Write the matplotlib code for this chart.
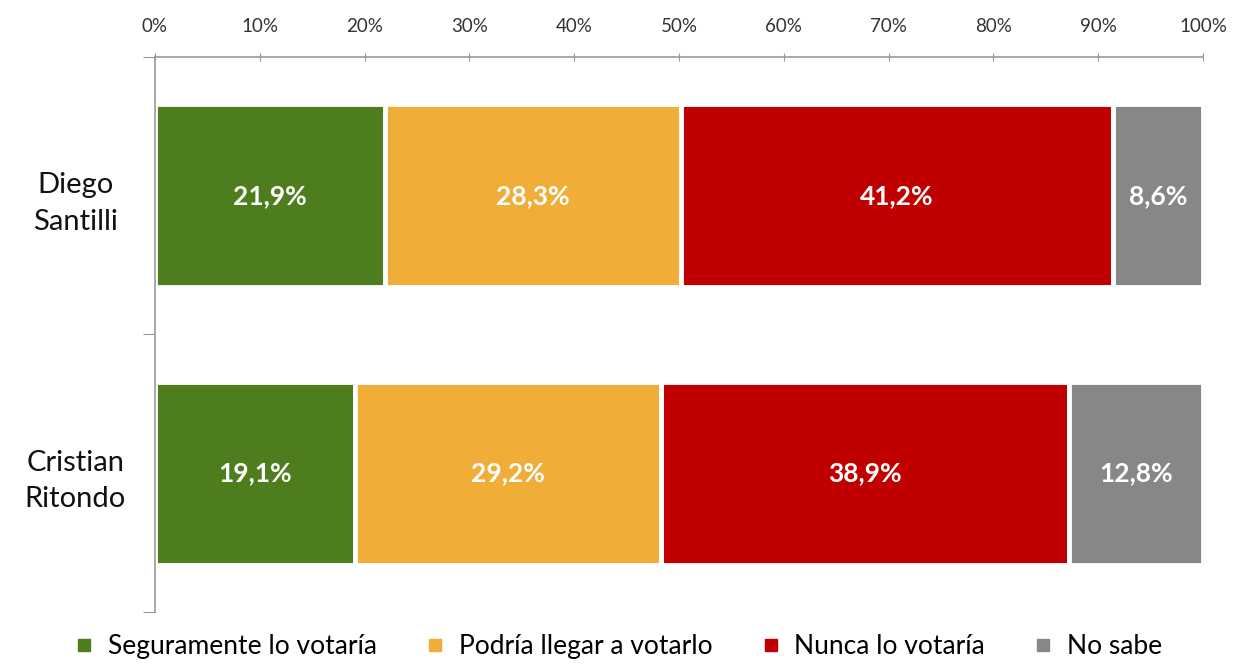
import matplotlib
matplotlib.use("Agg")
import matplotlib.pyplot as plt
from matplotlib.lines import Line2D

candidates = ["Diego\nSantilli", "Cristian\nRitondo"]
series_names = ["Seguramente lo votaría", "Podría llegar a votarlo", "Nunca lo votaría", "No sabe"]
seguramente = [21.9, 19.1]
podria = [28.3, 29.2]
nunca = [41.2, 38.9]
no_sabe = [8.6, 12.8]
xtick_labels = ["0%", "10%", "20%", "30%", "40%", "50%", "60%", "70%", "80%", "90%", "100%"]
colors = ["#4e7d1e", "#f0ae38", "#c00000", "#878787"]

plt.rcParams['font.family'] = ['Lato', 'DejaVu Sans']

fig = plt.figure(figsize=(12.36, 6.65), dpi=100)
ax = fig.add_axes([0.1254, 0.0797, 0.8479, 0.8346])

ypos = [1, 0]
data = [seguramente, podria, nunca, no_sabe]
left = [0.0, 0.0]
for vals, col, name in zip(data, colors, series_names):
    ax.barh(ypos, vals, left=left, height=0.66, color=col,
            edgecolor="white", linewidth=3.5, label=name)
    for y, l, v in zip(ypos, left, vals):
        ax.text(l + v / 2, y, f"{v:.1f}%".replace(".", ","), ha="center", va="center",
                color="white", fontsize=19, fontweight="bold")
    left = [a + b for a, b in zip(left, vals)]

ax.set_xlim(0, 100)
ax.set_ylim(-0.5, 1.5)
ax.xaxis.tick_top()
ax.set_xticks(range(0, 101, 10))
ax.set_xticklabels(xtick_labels, fontsize=13.5, color="#333333")
ax.tick_params(axis="x", direction="inout", length=6, color="#999999", pad=13)
ax.set_yticks([-0.5, 0.5, 1.5])
ax.set_yticklabels([])
ax.set_yticks(ypos, minor=True)
ax.set_yticklabels(candidates, minor=True, fontsize=21, color="#111111", linespacing=1.5)
ax.tick_params(axis="y", which="major", direction="out", length=9, color="#999999")
ax.tick_params(axis="y", which="minor", length=0, pad=0)
for lbl in ax.get_yticklabels(minor=True):
    lbl.set_horizontalalignment("center")
    lbl.set_x(-0.076)

for s in ["right", "bottom"]:
    ax.spines[s].set_visible(False)
ax.spines["top"].set_color("#999999")
ax.spines["left"].set_color("#999999")
ax.spines["top"].set_linewidth(1.2)
ax.spines["left"].set_linewidth(1.2)

handles = [Line2D([0], [0], marker="s", color="none", markerfacecolor=c, markeredgecolor=c,
                  markersize=8) for c in colors]
fig.legend(handles, series_names, loc="center", bbox_to_anchor=(0.5, 0.028), ncol=4,
           frameon=False, fontsize=19, handlelength=0.8, handletextpad=0.5, columnspacing=1.8)

fig.savefig("out.png", dpi=100, facecolor="white")
